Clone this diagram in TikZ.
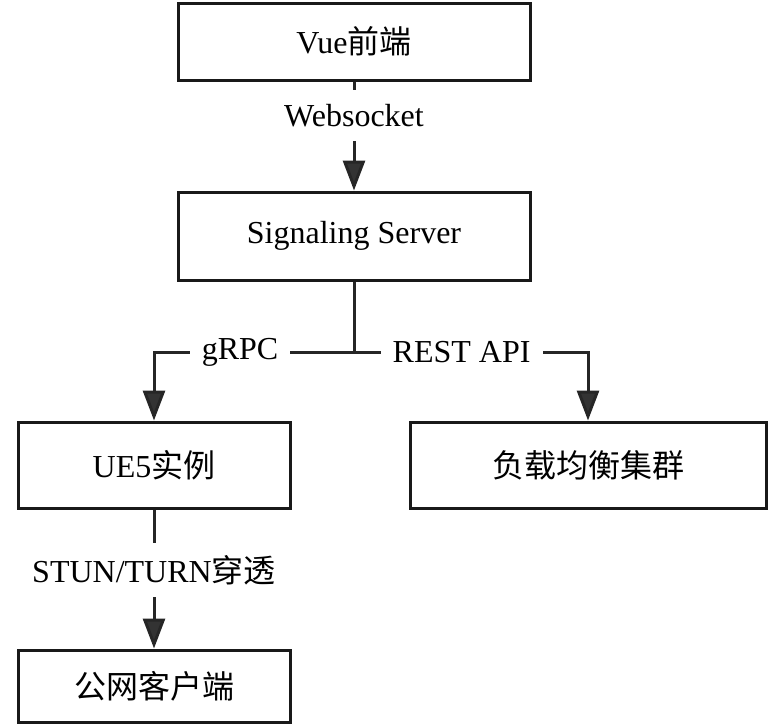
\documentclass[tikz,border=0pt]{standalone}
\usepackage{fontspec}
\setmainfont{Liberation Serif}
\newfontfamily\cjk{Noto Sans CJK SC}
\usetikzlibrary{arrows.meta}
\begin{document}
\begin{tikzpicture}[x=1pt,y=-1pt,
  box/.style={draw=black!90,line width=3pt,minimum width=#1,inner sep=0pt,font=\fontsize{32}{36}\selectfont},
  conn/.style={draw=black!85,line width=3pt,-{Triangle[length=30pt,width=22pt,fill=black!80]}},
  plain/.style={draw=black!85,line width=3pt},
  lbl/.style={fill=white,inner sep=12pt,font=\fontsize{32}{36}\selectfont}]
\useasboundingbox (0,0) rectangle (768,726);
\node[box=352pt,minimum height=77pt] (vue) at (354,41.5) {Vue{\cjk 前端}};
\node[box=352pt,minimum height=88pt] (sig) at (354,236) {Signaling Server};
\node[box=272pt,minimum height=86pt] (ue) at (154,465) {UE5{\cjk 实例}};
\node[box=356pt,minimum height=86pt] (lb) at (588,465) {\cjk 负载均衡集群};
\node[box=272pt,minimum height=72pt] (pub) at (154,686) {\cjk 公网客户端};
\draw[conn] (vue.south) -- node[lbl,pos=0.31,inner ysep=14pt] {Websocket} (sig.north);
\draw[plain] (sig.south) -- (sig.south |- 0,352) coordinate (j);
\draw[conn] (j) -| node[lbl,pos=0.285] {gRPC} (ue.north);
\draw[conn] (j) -| node[lbl,pos=0.23] {REST API} (lb.north);
\draw[conn] (ue.south) -- node[lbl,pos=0.437] {STUN/TURN{\cjk 穿透}} (pub.north);
\end{tikzpicture}
\end{document}
